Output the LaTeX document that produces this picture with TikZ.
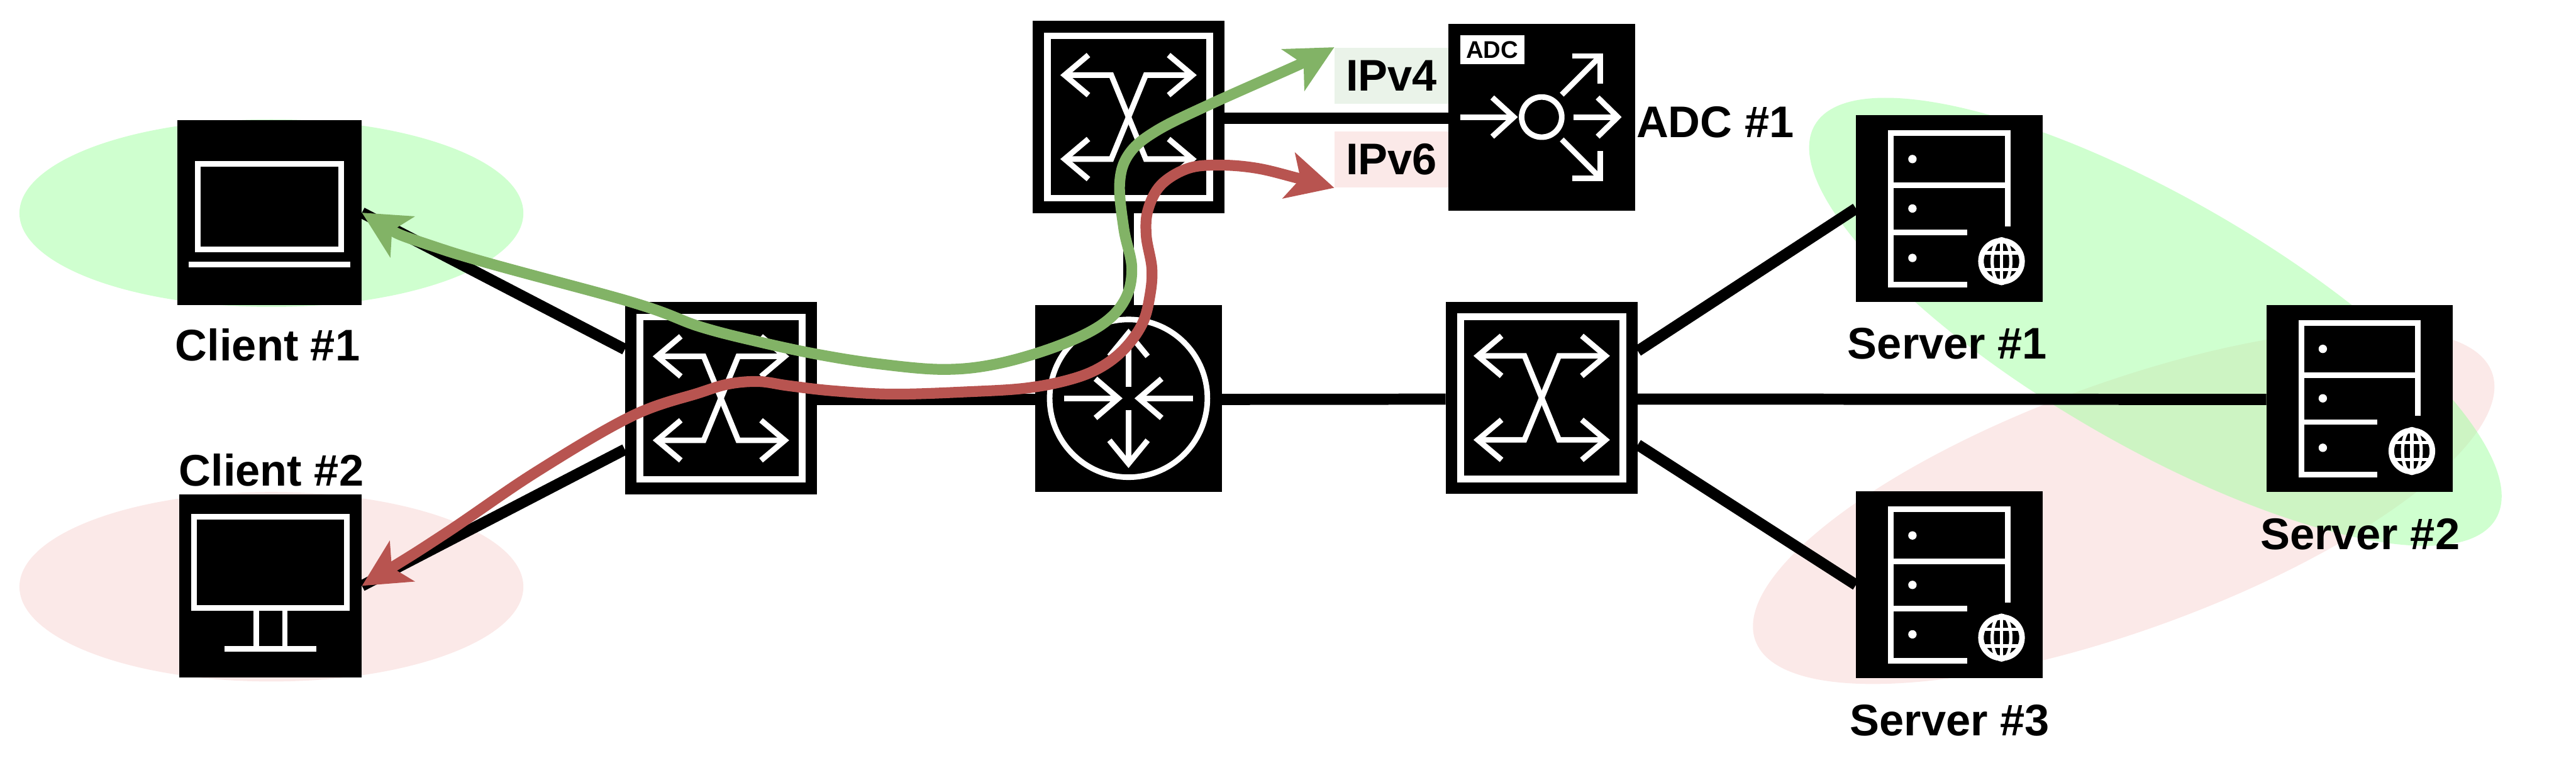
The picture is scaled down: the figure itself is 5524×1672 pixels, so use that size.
\documentclass[tikz,border=0pt]{standalone}
\usepackage{fontspec}
\setmainfont{Liberation Sans}
\usetikzlibrary{arrows.meta,shapes.geometric}
\definecolor{flowgreen}{HTML}{82B366}
\definecolor{flowred}{HTML}{B85450}
\definecolor{tagred}{HTML}{FBE9E8}
\definecolor{taggreen}{HTML}{EAF3E9}
\definecolor{blobgreen}{HTML}{A0FFA0}
\tikzset{
  glyph/.style={draw=white,line width=3.4pt,fill=none},
  switchglyph/.pic={
    \draw[glyph,line width=4pt] (-174,-174) rectangle (174,174);
    \draw[glyph] (-137,-90) -- (-37,-90) -- (37,90) -- (137,90);
    \draw[glyph] (137,-90) -- (37,-90) -- (-37,90) -- (-137,90);
    \foreach \yy in {-90,90} {
      \draw[glyph] (-86,\yy-43) -- (-137,\yy) -- (-86,\yy+43);
      \draw[glyph] (86,\yy-43) -- (137,\yy) -- (86,\yy+43);
    }
  },
  routerglyph/.pic={
    \draw[glyph] (0,0) circle [radius=1.69cm];
    \draw[glyph] (0,-25) -- (0,-140);
    \draw[glyph] (-41,-90) -- (0,-140) -- (41,-90);
    \draw[glyph] (0,25) -- (0,140);
    \draw[glyph] (-41,90) -- (0,140) -- (41,90);
    \draw[glyph] (-138,0) -- (-22,0);
    \draw[glyph] (-71,-42) -- (-22,0) -- (-71,42);
    \draw[glyph] (138,0) -- (22,0);
    \draw[glyph] (71,-42) -- (22,0) -- (71,42);
  },
  adcglyph/.pic={
    \draw[glyph] (0,0) circle [radius=.43cm];
    \draw[glyph] (-175,0) -- (-60,0);
    \draw[glyph] (-106,-42) -- (-60,0) -- (-106,42);
    \draw[glyph] (68,0) -- (163,0);
    \draw[glyph] (120,-42) -- (163,0) -- (120,42);
    \draw[glyph] (43,-48) -- (126,-131);
    \draw[glyph] (66,-131) -- (126,-131) -- (126,-72);
    \draw[glyph] (43,48) -- (126,131);
    \draw[glyph] (66,131) -- (126,131) -- (126,72);
  },
  serverglyph/.pic={
    \draw[glyph] (125,38) -- (125,-162) -- (-125,-162) -- (-125,163) -- (38,163);
    \draw[glyph] (-125,-50) -- (125,-50);
    \draw[glyph] (-125,51) -- (38,51);
    \foreach \yy in {-106,0,106}
      \fill[white] (-79,\yy) circle [radius=.09cm];
    \draw[glyph] (112,113) circle [radius=.44cm];
    \draw[glyph,line width=2pt] (112,63) -- (112,163);
    \draw[glyph,line width=2pt] (112,113) ellipse [x radius=.2cm,y radius=.48cm];
    \draw[glyph,line width=2pt] (70,95) -- (154,95);
    \draw[glyph,line width=2pt] (70,131) -- (154,131);
  },
  laptopglyph/.pic={
    \draw[glyph] (-154,-105) rectangle (154,79);
    \draw[glyph] (-173,111) -- (173,111);
  },
  monitorglyph/.pic={
    \draw[glyph] (-164,-148) rectangle (164,48);
    \draw[glyph] (-30,48) -- (-30,135);
    \draw[glyph] (31,48) -- (31,135);
    \draw[glyph] (-98,135) -- (98,135);
  }
}
\begin{document}
\begin{tikzpicture}[x=0.01cm,y=-0.01cm,
    dev node/.style={rectangle,fill=black,inner sep=0pt,outer sep=0pt,minimum size=#1},
    dev node/.default=4cm,
    blob/.style={ellipse,inner sep=0pt,outer sep=0pt},
    name node/.style={anchor=base,inner sep=0pt,font=\bfseries\fontsize{27}{30}\selectfont},
    tag node/.style={rectangle,inner sep=0pt,minimum width=2.44cm,minimum height=1.2cm,
                     font=\bfseries\fontsize{27}{30}\selectfont},
    link/.style={draw=black,line width=6.8pt},
    flow/.style={line width=6.6pt,line join=round,
                 {Stealth[length=1cm,width=1cm,inset=.25cm]}-{Stealth[length=1cm,width=1cm,inset=.25cm]}}]
  \useasboundingbox (0,0) rectangle (5524,1672);
  % groups behind everything
  \node[blob,fill=tagred,minimum width=10.8cm,minimum height=4.06cm] (v6a) at (582,1258) {};
  \node[blob,fill=tagred,rotate=20,minimum width=16.8cm,minimum height=5.3cm] (v6b) at (4554,1086) {};
  \node[blob,fill=blobgreen,fill opacity=.5,minimum width=10.8cm,minimum height=4.02cm] (v4a) at (582,457) {};
  \node[blob,fill=blobgreen,fill opacity=.5,rotate=-30,minimum width=16.86cm,minimum height=5.3cm] (v4b) at (4622,690) {};

  \node[dev node=3.96cm] (cl1) at (578,456) {};
  \node[dev node=3.92cm] (cl2) at (580,1256) {};
  \node[dev node=4.12cm] (sw1) at (1546,854) {};
  \node[dev node=4.12cm] (sw2) at (2420,251) {};
  \node[dev node] (rt) at (2420,854) {};
  \node[dev node] (adc) at (3306,251) {};
  \node[dev node=4.12cm] (sw3) at (3306,853) {};
  \node[dev node] (srv1) at (4180,447) {};
  \node[dev node] (srv2) at (5060,854) {};
  \node[dev node] (srv3) at (4180,1254) {};

  \path[link]
    (cl1.east) edge (sw1.153)
    (cl2.east) edge (sw1.208)
    (rt) edge (sw2)
    (sw3.26) edge (srv1.west)
    (sw3.-26) edge (srv3.west);
  \path[link,transform canvas={yshift=-.025cm}]
    (sw1) edge (rt)
    (rt) edge (sw3)
    (sw2.east) edge (adc.west)
    (sw3) edge (srv2);

  \pic at (cl1) {laptopglyph};
  \pic at (cl2) {monitorglyph};
  \pic at (sw1) {switchglyph};
  \pic at (sw2) {switchglyph};
  \pic at (sw3) {switchglyph};
  \pic at (rt) {routerglyph};
  \pic at (adc) {adcglyph};
  \pic at (srv1) {serverglyph};
  \pic at (srv2) {serverglyph};
  \pic at (srv3) {serverglyph};

  \node[name node] (cl1name) at (574,774) {Client \#1};
  \node[name node] (cl2name) at (582,1042) {Client \#2};
  \node[name node] (adcname) at (3678,295) {ADC \#1};
  \node[name node] (srv1name) at (4176,770) {Server \#1};
  \node[name node] (srv2name) at (5061,1178) {Server \#2};
  \node[name node] (srv3name) at (4181,1577) {Server \#3};
  \node[tag node,fill=taggreen] (ipv4) at (2984,162) {IPv4};
  \node[tag node,fill=tagred] (ipv6) at (2984,342) {IPv6};
  \node[fill=white,inner sep=0pt,minimum width=1.38cm,minimum height=.62cm,
        font=\bfseries\fontsize{14.7}{16}\selectfont] (adctag) at (3200,107) {ADC};

  % the two traffic paths
  \draw[flow,draw=flowgreen] plot[smooth,tension=.6] coordinates {
    (cl1.east) (953,536) (1355,648) (1500,700) (1628,733) (1755,760) (1883,780) (2023,792)
    (2138,780) (2265,743) (2361,697) (2412,643) (2427,575) (2410,491) (2401,393) (2421,330)
    (2479,281) (2594,224) (2789,137) (ipv4.north west)};
  \draw[flow,draw=flowred] plot[smooth,tension=.6] coordinates {
    (cl2.east) (953,1145) (1148,1013) (1355,892) (1500,842) (1564,823) (1628,818) (1691,827)
    (1787,838) (1915,845) (2074,840) (2201,832) (2297,813) (2361,787) (2412,747) (2450,693)
    (2466,633) (2470,575) (2458,505) (2462,449) (2490,396) (2548,361) (2617,354) (2697,361)
    (2783,382) (ipv6.south west)};
\end{tikzpicture}
\end{document}
